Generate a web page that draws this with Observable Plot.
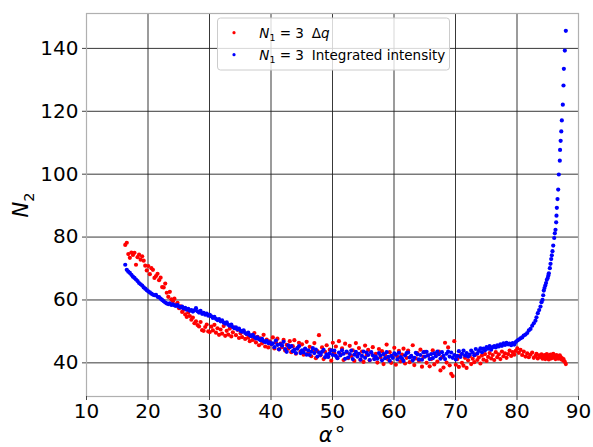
<!DOCTYPE html>
<html>
<head>
<meta charset="utf-8">
<script src="https://cdn.jsdelivr.net/npm/d3@7"></script>
<script src="https://cdn.jsdelivr.net/npm/@observablehq/plot@0.6"></script>
<style>
  html, body { margin: 0; padding: 0; background: #fff; }
  svg text { white-space: pre; }
</style>
</head>
<body>
<script>
// angle alpha (degrees), shared by both series
const alpha = [
  16.3,16.55,16.8,17.05, 17.3,17.55,17.8,18.05, 18.3,18.55,18.8,19.05, 19.3,19.55,19.8,20.05,
  20.3,20.55,20.8,21.05, 21.3,21.55,21.8,22.05, 22.3,22.55,22.8,23.05, 23.3,23.55,23.8,24.05,
  24.3,24.55,24.8,25.05, 25.3,25.55,25.8,26.05, 26.3,26.55,26.8,27.05, 27.3,27.55,27.8,28.05,
  28.3,28.55,28.8,29.05, 29.3,29.55,29.8,30.05, 30.3,30.55,30.8,31.05, 31.3,31.55,31.8,32.05,
  32.3,32.55,32.8,33.05, 33.3,33.55,33.8,34.05, 34.3,34.55,34.8,35.05, 35.3,35.55,35.8,36.05,
  36.3,36.55,36.8,37.05, 37.3,37.55,37.8,38.05, 38.3,38.55,38.8,39.05, 39.3,39.55,39.8,40.05,
  40.3,40.55,40.8,41.05, 41.3,41.55,41.8,42.05, 42.3,42.55,42.8,43.05, 43.3,43.55,43.8,44.05,
  44.3,44.55,44.8,45.05, 45.3,45.55,45.8,46.05, 46.3,46.55,46.8,47.05, 47.3,47.55,47.8,48.05,
  48.3,48.55,48.8,49.05, 49.3,49.55,49.8,50.05, 50.3,50.55,50.8,51.05, 51.3,51.55,51.8,52.05,
  52.3,52.55,52.8,53.05, 53.3,53.55,53.8,54.05, 54.3,54.55,54.8,55.05, 55.3,55.55,55.8,56.05,
  56.3,56.55,56.8,57.05, 57.3,57.55,57.8,58.05, 58.3,58.55,58.8,59.05, 59.3,59.55,59.8,60.05,
  60.3,60.55,60.8,61.05, 61.3,61.55,61.8,62.05, 62.3,62.55,62.8,63.05, 63.3,63.55,63.8,64.05,
  64.3,64.55,64.8,65.05, 65.3,65.55,65.8,66.05, 66.3,66.55,66.8,67.05, 67.3,67.55,67.8,68.05,
  68.3,68.55,68.8,69.05, 69.3,69.55,69.8,70.05, 70.3,70.55,70.8,71.05, 71.3,71.55,71.8,72.05,
  72.3,72.55,72.8,73.05, 73.3,73.55,73.8,74.05, 74.3,74.55,74.8,75.05, 75.3,75.55,75.8,76.05,
  76.3,76.55,76.8,77.05, 77.3,77.55,77.8,78.05, 78.3,78.55,78.8,79.05, 79.3,79.55,79.8,80.05,
  80.3,80.57,80.84,81.1,81.38, 81.66,81.92,82.2,82.47,82.73, 83.0,83.17,83.38,83.6,83.82,
  83.98,84.15,84.26,84.36,84.47, 84.6,84.72,84.85,85.0,85.1, 85.18,85.34,85.45,85.56,85.66,
  85.77,85.89,86.05,86.15,86.26, 86.37,86.42,86.48,86.59,86.7, 86.8,86.96,87.0,87.1,87.2,
  87.29,87.45,87.56,87.62,87.78, 87.94
];

// N1 = 3, Delta q  (red)
const dq = [
  77.5,78.2,74.6,73.4, 75.1,74.3,75.0,71.2, 73.6,74.4,72.8,73.9, 72.5,70.9,69.4,70.8,
  68.2,70.1,69.6,67.0, 67.6,68.3,66.3,67.1, 64.1,64.0,65.2,62.3, 61.0,62.6,60.2,59.6,
  60.4,58.5,59.1,57.4, 58.0,56.2,56.9,55.4, 54.6,56.0,54.9,53.7, 54.4,52.6,53.2,52.0,
  51.6,53.0,50.4,50.2, 51.4,52.2,50.0,49.8, 51.5,50.3,52.1,49.6, 51.0,48.9,50.6,49.3,
  51.7,48.6,50.2,49.0, 50.9,48.4,49.7,51.2, 48.8,50.5,47.9,49.4, 48.2,50.1,47.6,49.1,
  48.0,46.9,48.7,47.3, 49.5,46.5,48.3,45.6, 47.8,46.2,48.9,45.2, 47.4,44.9,46.8,45.9,
  48.1,44.6,46.5,47.7, 44.3,46.1,45.0,47.3, 43.9,45.7,44.5,46.9, 43.4,45.3,47.2,42.9,
  44.8,46.4,43.6,45.9, 42.6,44.3,46.7,43.2, 45.1,42.1,44.0,46.3, 41.5,43.7,48.8,42.4,
  44.9,41.2,43.5,45.6, 42.0,44.2,40.7,46.4, 43.0,45.2,41.6,46.9, 42.7,44.6,40.9,46.1,
  43.3,41.5,45.4,42.2, 44.0,40.6,46.3,42.8, 44.7,41.0,43.6,40.3, 45.5,42.4,44.1,40.8,
  43.2,45.0,41.3,42.9, 40.1,44.4,41.8,43.7, 39.6,42.5,45.8,41.1, 43.4,40.0,42.2,44.8,
  39.4,41.9,43.8,40.5, 42.6,44.5,39.8,41.6, 43.9,40.2,42.0,45.6, 39.3,41.4,43.1,40.7,
  44.2,38.8,41.9,43.5, 40.0,42.3,38.9,41.2, 44.0,39.5,42.7,40.4, 43.6,37.6,41.8,38.5,
  46.4,40.1,44.9,39.2, 36.5,35.8,46.9,39.4, 41.2,38.7,42.4,40.0, 39.1,41.6,38.4,40.8,
  42.1,39.6,41.3,40.2, 42.6,40.9,41.7,39.8, 42.3,41.0,42.8,40.6, 41.9,43.1,41.4,42.5,
  40.9,43.4,41.8,42.7, 41.2,43.6,42.1,43.0, 41.6,42.8,43.9,42.2, 43.4,42.6,43.8,44.6,
  43.2,44.1,42.5,43.6,42.0, 43.0,41.8,42.6,43.3,41.6, 42.2,42.9,41.4,42.4,41.9,
  42.7,41.3,42.1,41.7,42.5, 41.2,42.0,42.8,41.5,42.3, 41.1,41.9,42.6,41.4,42.2,
  41.8,42.9,41.6,42.3,41.2, 42.0,42.5,41.7,42.1,41.3, 41.9,42.4,41.6,41.8,41.1,
  41.5,40.9,41.2,40.6,40.3, 39.6
];

// N1 = 3, Integrated intensity  (blue)
const intensity = [
  71.2,69.6,69.0,68.6, 68.0,67.4,67.0,66.5, 66.0,65.4,65.0,64.6, 64.0,63.6,63.1,62.7,
  62.4,62.0,61.7,61.5, 61.6,61.0,60.9,60.4, 60.0,59.6,59.2,58.9, 58.7,58.9,58.4,58.6,
  58.3,58.1,58.4,57.9, 57.6,57.9,57.3,57.5, 56.9,57.2,56.6,56.8, 56.3,56.7,57.4,56.4,
  56.0,56.5,55.6,55.9, 55.3,55.7,55.0,55.3, 54.8,54.3,54.6,54.0, 53.6,53.9,53.2,53.5,
  52.8,52.5,52.9,52.1, 51.8,52.2,51.4,51.0, 51.3,50.6,50.9,50.2, 49.9,50.3,49.5,49.2,
  49.6,48.8,48.5,48.9, 48.2,47.8,48.1,47.5, 47.2,47.6,46.9,46.6, 47.0,46.3,46.5,46.0,
  46.2,45.0,47.1,45.7, 44.3,45.9,45.5,46.7, 44.4,43.5,45.6,45.0, 45.3,43.7,44.2,43.1,
  44.5,45.3,43.1,44.0, 43.3,44.5,42.6,44.0, 42.5,43.6,44.7,43.1, 44.2,42.0,43.3,42.6,
  43.5,44.1,41.8,42.7, 41.9,43.0,44.0,42.5, 43.9,42.2,41.5,43.3, 42.4,44.0,42.9,41.3,
  43.6,41.7,42.8,43.9, 41.2,42.6,43.5,42.0, 42.9,41.0,42.2,43.6, 41.6,43.3,42.5,40.9,
  43.4,42.4,41.2,42.0, 41.3,43.1,42.3,40.8, 42.8,41.5,43.4,41.9, 40.7,42.2,41.6,43.0,
  42.6,41.1,43.2,41.8, 41.4,40.6,42.4,43.1, 43.3,41.7,42.2,40.8, 41.6,43.2,42.7,41.1,
  42.5,41.0,43.4,42.0, 43.5,42.4,41.2,42.8, 41.5,43.0,42.1,43.6, 42.7,41.3,43.4,42.2,
  41.2,42.9,43.6,42.0, 43.3,41.6,42.5,41.1, 42.2,43.7,41.9,42.9, 43.9,42.3,43.1,42.0,
  42.6,43.9,43.3,42.4, 44.4,43.0,43.8,44.6, 43.4,44.5,44.0,45.0, 44.5,45.3,44.2,45.0,
  45.3,44.9,45.6,45.2, 45.9,45.4,46.2,45.7, 46.4,45.9,46.1,45.6, 46.3,45.8,46.6,47.1,
  47.4,47.8,48.1,48.7,49.0, 49.5,50.3,50.8,51.8,52.6, 53.4,54.5,55.8,56.8,57.9,
  59.3,60.0,61.5,63.0,63.8, 64.6,65.4,66.4,67.0,67.8, 68.5,70.1,71.5,73.0,74.2,
  75.5,77.3,79.7,81.2,82.3, 84.7,86.8,89.3,92.1,95.1, 99.9,104.3,107.7,110.6,113.6,
  117.1,122.1,128.2,133.5,139.3, 145.6
];

const xTicks = [10, 20, 30, 40, 50, 60, 70, 80, 90];
const yTicks = [40, 60, 80, 100, 120, 140];
const seriesNames = ["Δq", "Integrated intensity"];
const seriesColors = ["#ff0000", "#0000ff"];

const rows = alpha.map((a, i) => ({alpha: a, dq: dq[i], intensity: intensity[i]}));

const chart = Plot.plot({
  width: 593,
  height: 447,
  marginLeft: 86,
  marginRight: 15,
  marginTop: 13,
  marginBottom: 51,
  style: {fontFamily: "DejaVu Sans", fontSize: "20px", background: "#fff", color: "#000"},
  x: {domain: [10, 90]},
  y: {domain: [29.3, 151.1]},
  marks: [
    Plot.gridX(xTicks.slice(0, -1), {stroke: "#222", strokeOpacity: 0.9, strokeWidth: 1}),
    Plot.gridY(yTicks, {stroke: "#222", strokeOpacity: 0.9, strokeWidth: 1}),
    Plot.frame({stroke: "#b0b0b0", strokeWidth: 1.2}),
    Plot.axisX(xTicks, {tickSize: 4, tickPadding: 3, fontSize: 20, stroke: "#444", label: null}),
    Plot.axisY(yTicks, {tickSize: 4, tickPadding: 4, fontSize: 20, stroke: "#444", label: null}),
    Plot.dot(rows, {x: "alpha", y: "dq", r: 2.1, fill: seriesColors[0], stroke: null}),
    Plot.dot(rows, {x: "alpha", y: "intensity", r: 2.1, fill: seriesColors[1], stroke: null})
  ]
});
document.body.appendChild(chart);

const svg = d3.select(chart);
// y label N_2
const yl = svg.append("text")
  .attr("transform", "translate(28,205) rotate(-90)")
  .attr("text-anchor", "middle")
  .attr("font-family", "DejaVu Sans")
  .attr("font-size", 21)
  .attr("fill", "#000");
yl.append("tspan").attr("font-style", "italic").text("N");
yl.append("tspan").attr("font-size", "70%").attr("dy", 6).text("2");

// x label alpha degree
const xl = svg.append("text")
  .attr("x", 332).attr("y", 442)
  .attr("text-anchor", "middle")
  .attr("font-family", "DejaVu Sans")
  .attr("font-size", 21)
  .attr("fill", "#000");
xl.append("tspan").attr("font-style", "italic").text("α");
xl.append("tspan").attr("dx", 2).text("°");

// legend
const lg = svg.append("g")
  .attr("font-family", "DejaVu Sans")
  .attr("font-size", 13.5)
  .attr("text-anchor", "start");
lg.append("rect")
  .attr("x", 217.5).attr("y", 18).attr("width", 232).attr("height", 52).attr("rx", 3)
  .attr("fill", "#fff").attr("fill-opacity", 0.8).attr("stroke", "#cccccc");
const rowY = [37.5, 59.5];
seriesNames.forEach((name, i) => {
  lg.append("circle").attr("cx", 234).attr("cy", rowY[i] - 4.8).attr("r", 1.6).attr("fill", seriesColors[i]);
  const t = lg.append("text").attr("x", 259.3).attr("y", rowY[i]).attr("fill", "#000").attr("text-anchor", "start");
  t.append("tspan").attr("font-style", "italic").text("N");
  t.append("tspan").attr("font-size", "70%").attr("dy", 3).text("1");
  t.append("tspan").attr("dy", -3).text(" = 3");
  const t2 = lg.append("text").attr("x", 311.7).attr("y", rowY[i]).attr("fill", "#000").attr("text-anchor", "start");
  if (i === 0) {
    t2.append("tspan").text("Δ");
    t2.append("tspan").attr("font-style", "italic").text("q");
  } else {
    t2.text(name);
  }
});
</script>
</body>
</html>
